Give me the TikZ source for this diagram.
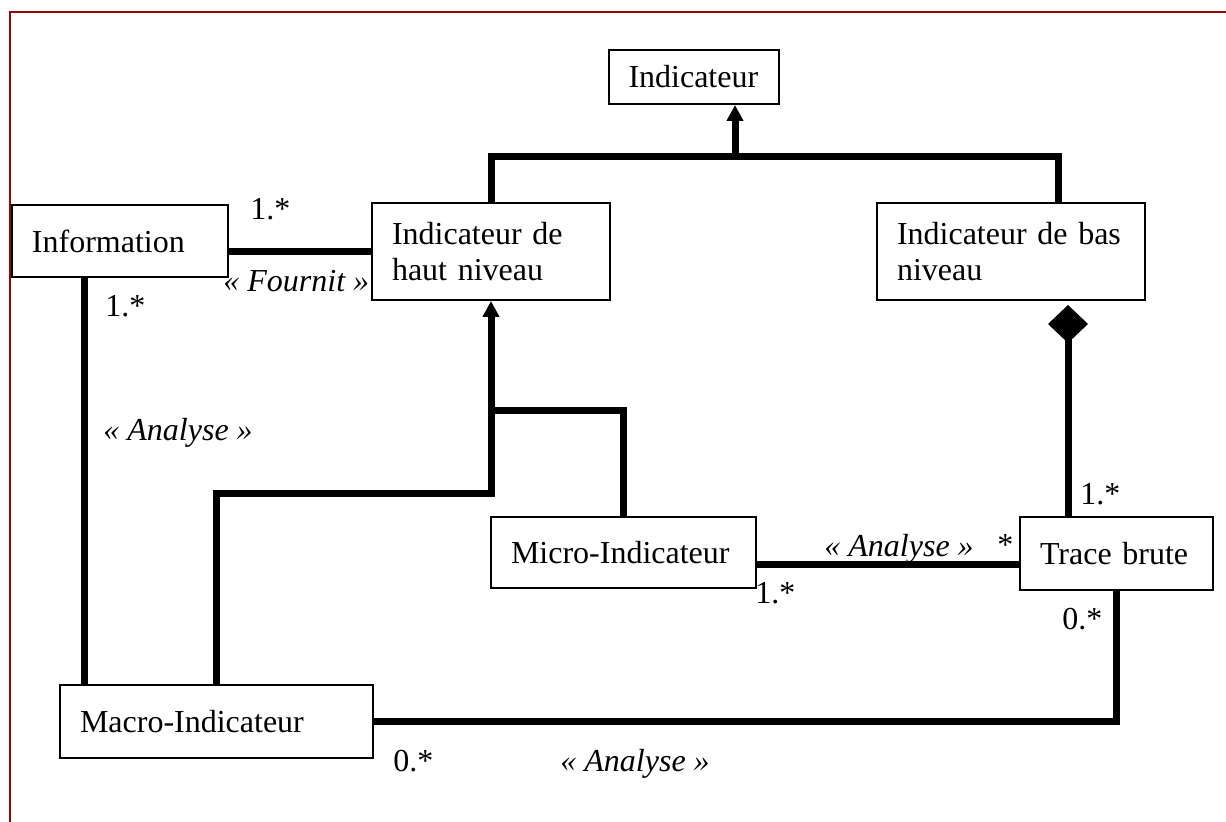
\documentclass[tikz,border=0pt]{standalone}
\usepackage{fontspec}
\setmainfont{Liberation Serif}
\usetikzlibrary{arrows.meta, calc}
\definecolor{framered}{HTML}{8B0A0A}

\begin{document}
\begin{tikzpicture}[
  x=0.5pt, y=-0.5pt,
  box/.style={draw, line width=1pt, inner xsep=10pt, inner ysep=4pt,
              align=left, font=\fontsize{16}{18}\selectfont},
  lbl/.style={inner sep=0pt, anchor=base west, font=\fontsize{16}{18}\selectfont},
  stereo/.style={lbl, font=\fontsize{16}{18}\selectfont\itshape},
  link/.style={line width=3.5pt},
  gen/.style={link, -{Triangle[length=8pt, width=8pt]}},
  comp/.style={link, {Diamond[length=19pt, width=20pt]}-, shorten <=2pt}
]
\useasboundingbox (0,0) rectangle (1226,822);

% Frame
\draw[framered, line width=1.25pt] (1226,12) -- (10,12) -- (10,822);

% Classes
\node[box, text width=65pt, minimum height=27pt] (ind) at (693.5,77) {Indicateur};
\node[box, text width=88pt, minimum height=36pt] (info) at (120,241) {Information};
\node[box, text width=99pt, minimum height=48.5pt] (haut) at (491,251.5) {Indicateur de\\haut niveau};
\node[box, text width=114pt, minimum height=48.5pt] (bas) at (1011,251.5) {Indicateur de bas\\niveau};
\node[box, text width=112.5pt, minimum height=35.5pt] (micro) at (623.5,552.5) {Micro-Indicateur};
\node[box, text width=76.5pt, minimum height=36.5pt] (trace) at (1116.5,553.5) {Trace brute};
\node[box, text width=136.5pt, minimum height=36.5pt] (macro) at (216.5,721.5) {Macro-Indicateur};

% Junctions
\coordinate (gtop) at (735,157);
\coordinate (jmic) at ($(haut.south)+(0,110)$);
\coordinate (jmac) at ($(haut.south)+(0,193)$);
\coordinate (ctop) at ($(bas.south)+(57,0)$);
\coordinate (itop) at ($(info.south)+(-36,0)$);
\coordinate (mrow) at ($(micro.east)+(0,12.5)$);

% Generalisations
\draw[link] (haut.north) |- (gtop) -| ($(bas.north)+(47,0)$);
\draw[gen] (gtop) -- (gtop |- ind.south);
\draw[link] (micro.north) |- (jmic);
\draw[gen] (macro.north) |- (jmac) -- (haut.south);

% Composition
\draw[comp] (ctop) -- (ctop |- trace.north);

% Associations
\draw[link] (info.east |- haut.west) -- (haut.west);
\draw[link] (itop) -- (itop |- macro.north);
\draw[link] (mrow) -- (mrow -| trace.west);
\draw[link] (macro.east) -| (trace.south);

% Multiplicities and stereotypes
\node[lbl] (m1) at (250,220) {1.*};
\node[stereo] (s1) at (223,292) {« Fournit »};
\node[lbl] (m2) at (105,317) {1.*};
\node[stereo] (s2) at (103,441) {« Analyse »};
\node[lbl] (m3) at (1080,505) {1.*};
\node[stereo] (s3) at (824,557) {« Analyse »};
\node[lbl] (m4) at (997,556) {*};
\node[lbl] (m5) at (755,604) {1.*};
\node[lbl] (m6) at (1062,630) {0.*};
\node[lbl] (m7) at (393,772) {0.*};
\node[stereo] (s4) at (560,772) {« Analyse »};

\end{tikzpicture}
\end{document}
